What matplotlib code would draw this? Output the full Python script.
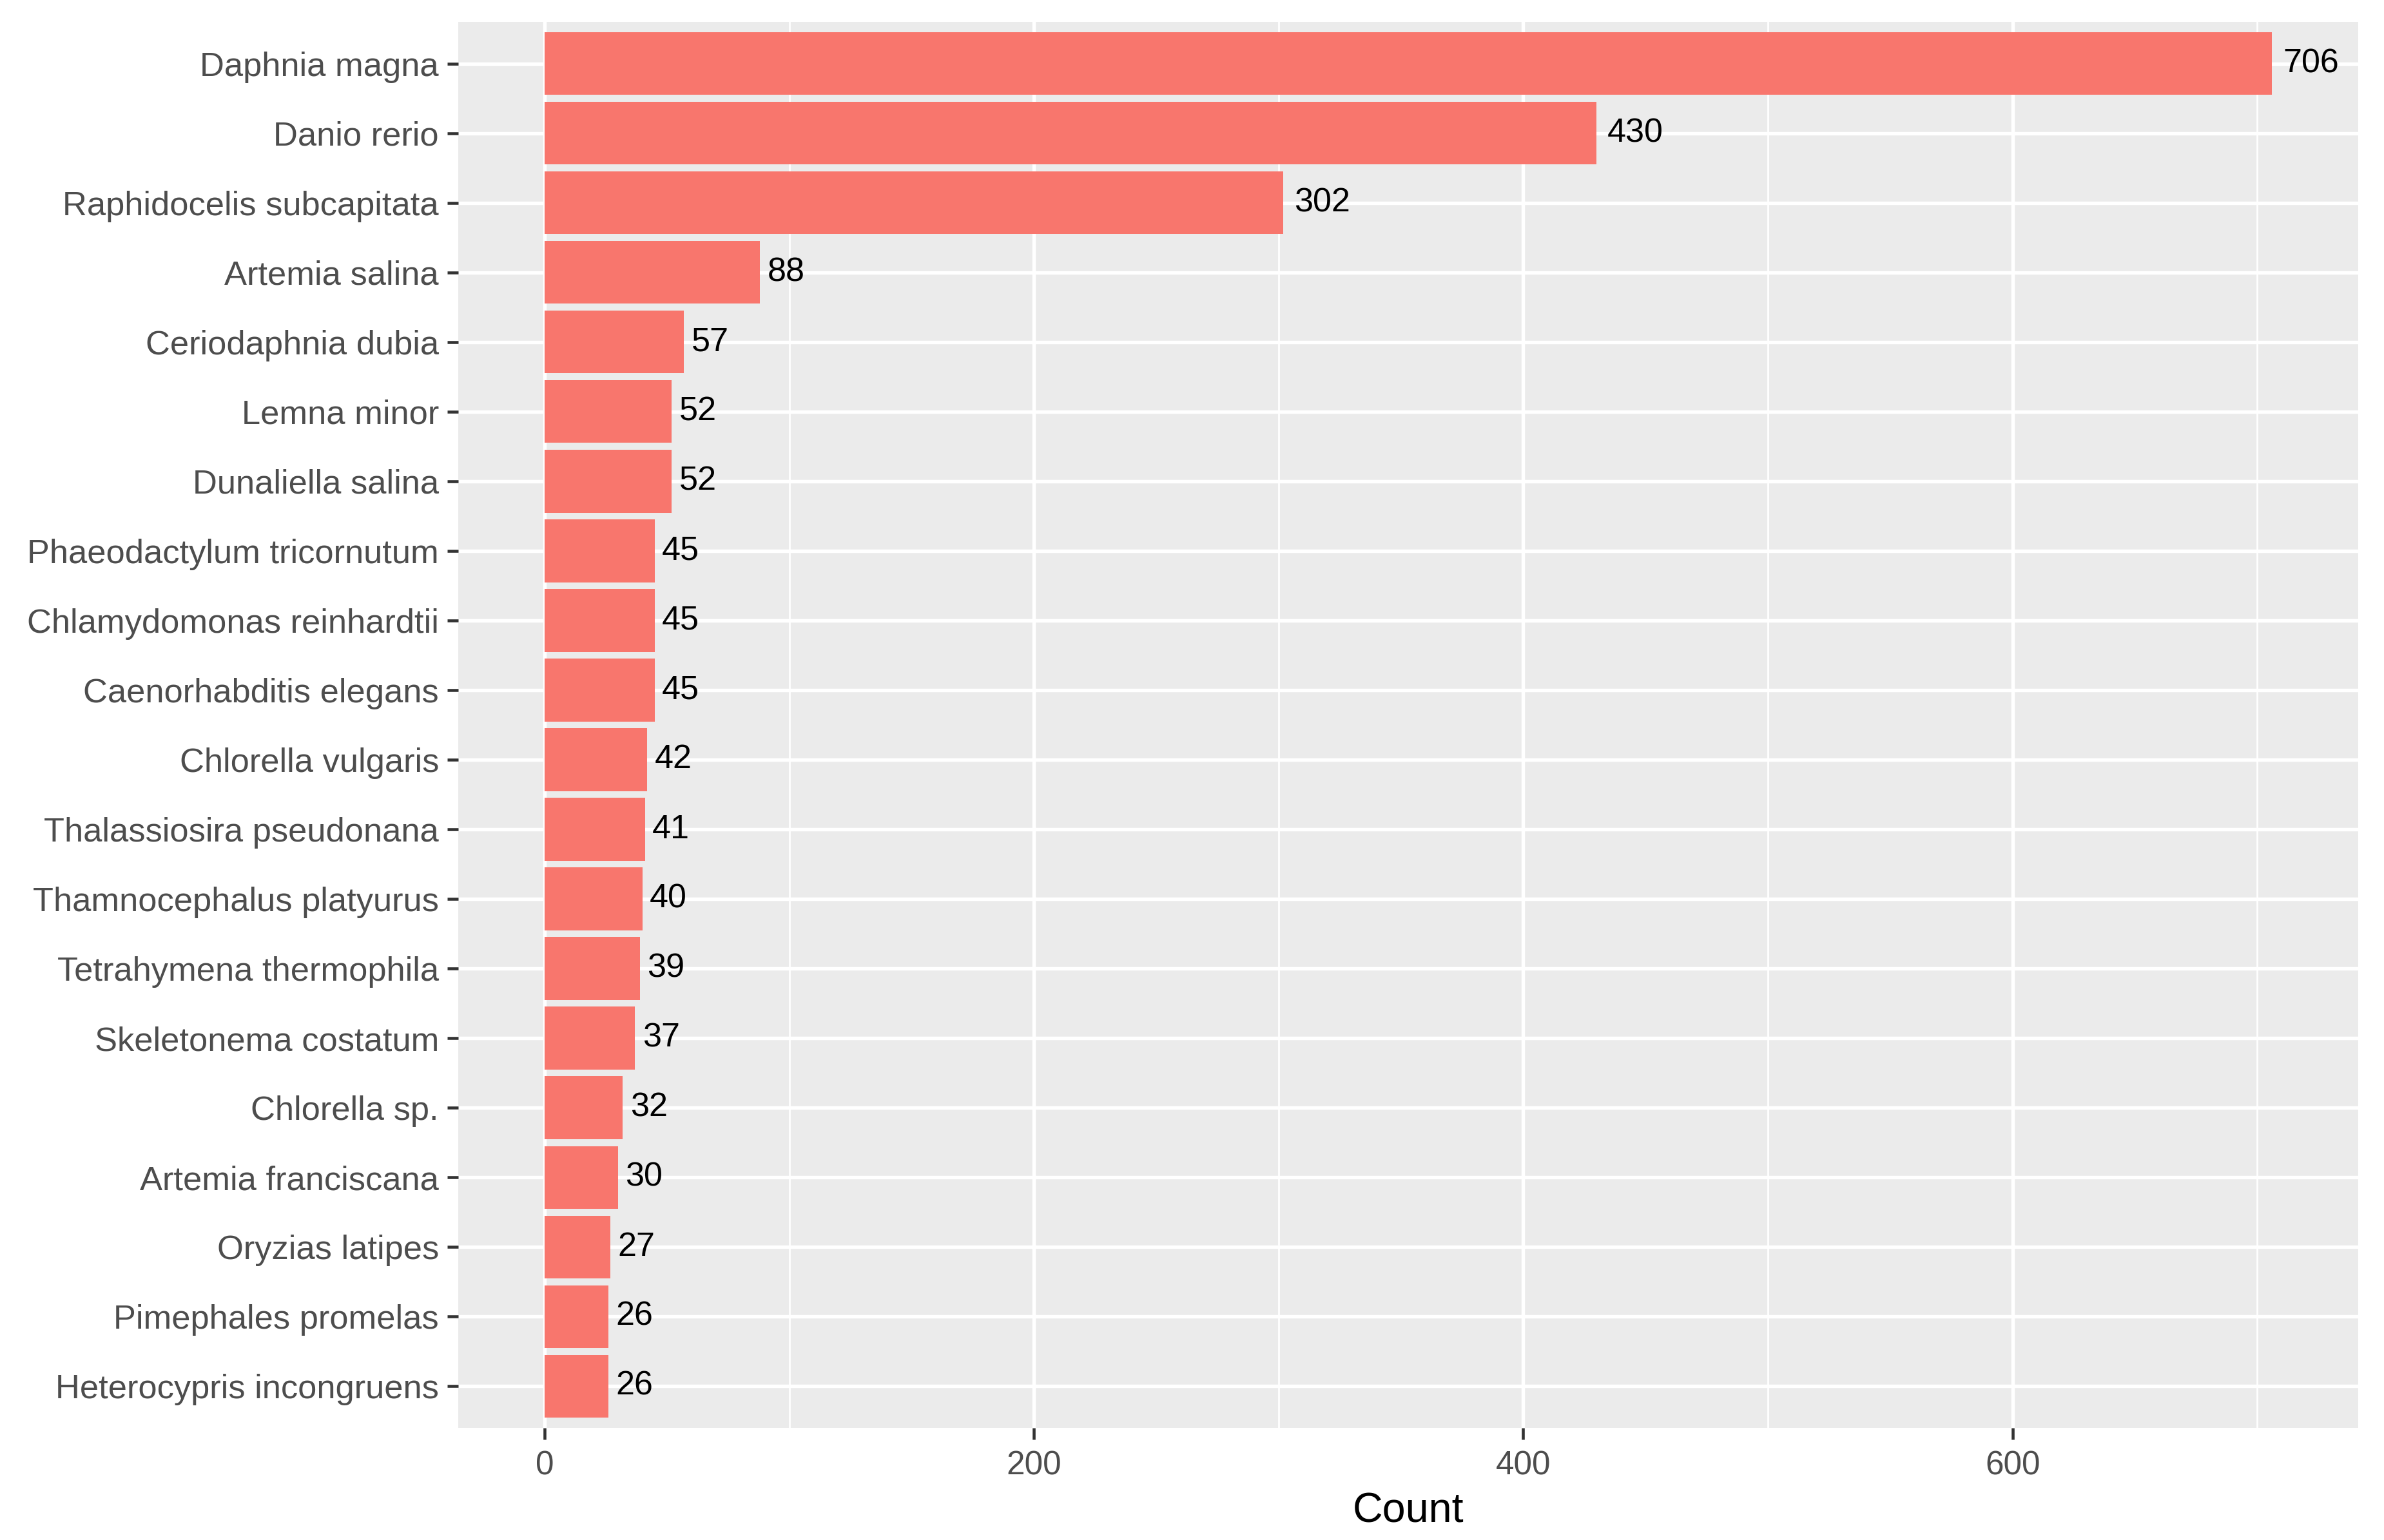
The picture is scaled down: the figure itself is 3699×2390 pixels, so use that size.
import numpy as np
import matplotlib
matplotlib.use("Agg")
import matplotlib.pyplot as plt
from matplotlib.ticker import MultipleLocator

# species (top to bottom) and their counts
species = [
    "Daphnia magna", "Danio rerio", "Raphidocelis subcapitata", "Artemia salina",
    "Ceriodaphnia dubia", "Lemna minor", "Dunaliella salina",
    "Phaeodactylum tricornutum", "Chlamydomonas reinhardtii",
    "Caenorhabditis elegans", "Chlorella vulgaris", "Thalassiosira pseudonana",
    "Thamnocephalus platyurus", "Tetrahymena thermophila", "Skeletonema costatum",
    "Chlorella sp.", "Artemia franciscana", "Oryzias latipes",
    "Pimephales promelas", "Heterocypris incongruens",
]
counts = [706, 430, 302, 88, 57, 52, 52, 45, 45, 45, 42, 41, 40, 39, 37, 32, 30, 27, 26, 26]

plt.rcParams['font.family'] = ['Liberation Sans', 'DejaVu Sans']

fig = plt.figure(figsize=(3699 / 300, 2390 / 300), dpi=300)
ax = fig.add_axes([0.1922, 0.0728, 0.9892 - 0.1922, 0.9858 - 0.0728])

n = len(species)
ypos = np.arange(n)[::-1] + 1  # first species on top

ax.set_facecolor('#EBEBEB')
ax.barh(ypos, counts, height=0.9, color='#F8766D', zorder=3)

for y, c in zip(ypos, counts):
    s = str(c)
    ax.annotate(s, xy=(c, y), xytext=(1.35 * len(s), 0), textcoords='offset points',
                ha='left', va='center', fontsize=12.5, color='black', zorder=4)

# ggplot-like scales
xmax = max(counts)
ax.set_xlim(-0.05 * xmax, 1.05 * xmax)
ax.set_ylim(0.4, n + 0.6)
ax.set_yticks(ypos)
ax.set_yticklabels(species)
ax.xaxis.set_major_locator(MultipleLocator(200))
ax.xaxis.set_minor_locator(MultipleLocator(100))

ax.grid(which='major', color='white', linewidth=1.3, zorder=0)
ax.grid(which='minor', axis='x', color='white', linewidth=0.65, zorder=0)
ax.set_axisbelow(True)
for sp in ax.spines.values():
    sp.set_visible(False)

ax.tick_params(axis='both', which='major', length=4.2, width=1.1, color='#333333',
               labelcolor='#4D4D4D', labelsize=12.3)
ax.tick_params(axis='x', which='major', pad=4)
ax.tick_params(axis='y', which='major', pad=3, labelsize=12.6)
ax.tick_params(which='minor', length=0)

ax.set_xlabel('Count', fontsize=15.5, color='black', labelpad=4)

fig.savefig('out.png', dpi=300)
